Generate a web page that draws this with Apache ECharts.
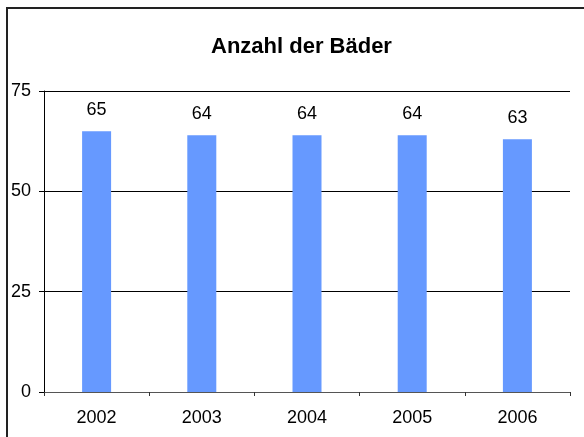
<!DOCTYPE html>
<html>
<head>
<meta charset="utf-8">
<script src="https://cdn.jsdelivr.net/npm/echarts@6/dist/echarts.min.js"></script>
<style>
  html, body { margin: 0; padding: 0; background: #fff; overflow: hidden; }
  #main { width: 584px; height: 437px; }
</style>
</head>
<body>
<div id="main"></div>
<script>
// Daten
var years = ["2002", "2003", "2004", "2005", "2006"];
var baeder = [65, 64, 64, 64, 63];
var yTicks = [0, 25, 50, 75];

var chart = echarts.init(document.getElementById("main"));

var option = {
  animation: false,
  textStyle: { fontFamily: "Liberation Sans, Arial, sans-serif" },
  title: {
    text: "Anzahl der Bäder",
    left: 206,
    top: 31,
    textStyle: { fontSize: 22, fontWeight: "bold", color: "#000", fontFamily: "Liberation Sans, Arial, sans-serif" }
  },
  // Rahmen um das Diagramm (rechts/unten abgeschnitten)
  graphic: [{
    type: "rect",
    shape: { x: 7, y: 8, width: 620, height: 460 },
    style: { fill: null, stroke: "#222", lineWidth: 2 }
  }],
  grid: { left: 44, right: 14, top: 91, bottom: 45 },
  xAxis: {
    type: "category",
    data: years,
    axisLine: { lineStyle: { color: "#555", width: 1 } },
    axisTick: { show: true, alignWithLabel: false, length: 4, lineStyle: { color: "#333" } },
    axisLabel: { fontSize: 18, color: "#000", margin: 17 }
  },
  yAxis: {
    type: "value",
    min: yTicks[0],
    max: yTicks[yTicks.length - 1],
    interval: 25,
    axisLine: { show: true, lineStyle: { color: "#000", width: 1 } },
    axisTick: { show: true, length: 5, lineStyle: { color: "#000" } },
    axisLabel: { fontSize: 18, color: "#000", margin: 13 },
    splitLine: { lineStyle: { color: "#000", width: 1 } }
  },
  series: [{
    type: "bar",
    data: baeder,
    barWidth: 29,
    itemStyle: { color: "#6699FF" },
    label: {
      show: true,
      position: "top",
      distance: 12,
      fontSize: 18,
      color: "#000"
    }
  }]
};

chart.setOption(option);
</script>
</body>
</html>
